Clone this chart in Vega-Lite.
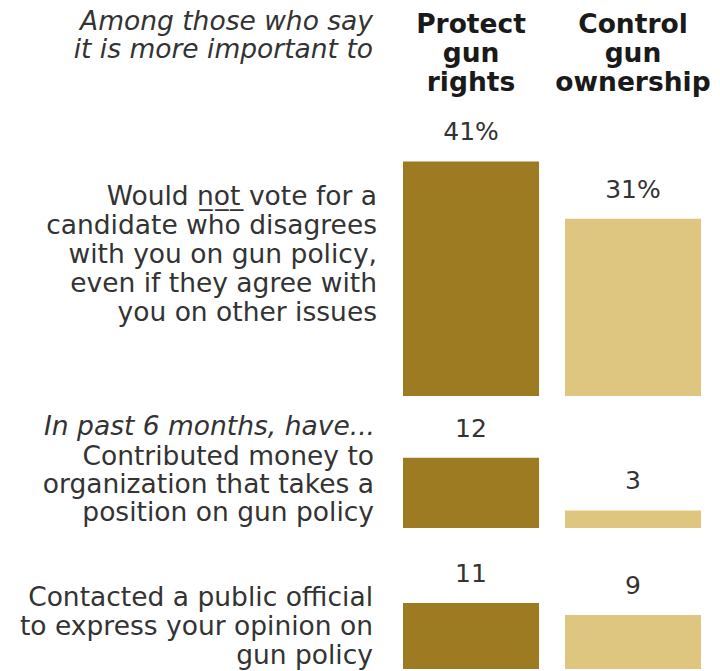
{
  "$schema": "https://vega.github.io/schema/vega-lite/v6.json",
  "padding": {"left": 19, "top": 0, "right": 0, "bottom": 2},
  "background": "white",
  "spacing": 0,
  "bounds": "flush",
  "config": {
    "view": {"stroke": null},
    "text": {"font": "DejaVu Sans", "color": "#333333"}
  },
  "datasets": {
    "bars": [
      {"item": "vote", "group": "Protect gun rights", "value": 41, "label": "41%"},
      {"item": "vote", "group": "Control gun ownership", "value": 31, "label": "31%"},
      {"item": "money", "group": "Protect gun rights", "value": 12, "label": "12"},
      {"item": "money", "group": "Control gun ownership", "value": 3, "label": "3"},
      {"item": "contact", "group": "Protect gun rights", "value": 11, "label": "11"},
      {"item": "contact", "group": "Control gun ownership", "value": 9, "label": "9"}
    ]
  },
  "resolve": {"scale": {"y": "independent"}},
  "vconcat": [
    {
      "width": 298,
      "height": 396,
      "layer": [
        {
          "data": {"name": "bars"},
          "transform": [{"filter": "datum.item === 'vote'"}],
          "mark": {"type": "bar"},
          "encoding": {
            "x": {"field": "group", "type": "nominal", "scale": {"type": "band", "domain": ["Protect gun rights", "Control gun ownership"], "paddingInner": 0.16, "paddingOuter": 0}, "axis": null},
            "y": {"field": "value", "type": "quantitative", "scale": {"domain": [0, 69.23], "nice": false, "zero": true}, "axis": null},
            "color": {"field": "group", "type": "nominal", "scale": {"domain": ["Protect gun rights", "Control gun ownership"], "range": ["#9c7b23", "#dfc680"]}, "legend": null}
          }
        },
        {
          "data": {"name": "bars"},
          "transform": [{"filter": "datum.item === 'vote'"}],
          "mark": {"type": "text", "dy": -29, "fontSize": 25, "baseline": "middle"},
          "encoding": {
            "x": {"field": "group", "type": "nominal"},
            "y": {"field": "value", "type": "quantitative"},
            "text": {"field": "label"}
          }
        },
        {
          "data": {"values": [
            {"group": "Protect gun rights", "head": "Protect|gun|rights"},
            {"group": "Control gun ownership", "head": "Control|gun|ownership"}
          ]},
          "mark": {"type": "text", "fontSize": 26.5, "fontWeight": "bold", "color": "#1a1a1a", "lineBreak": "|", "lineHeight": 29, "baseline": "middle"},
          "encoding": {
            "x": {"field": "group", "type": "nominal"},
            "y": {"datum": 64.86},
            "text": {"field": "head"}
          }
        },
        {
          "data": {"values": [{"note": "Among those who say|it is more important to"}]},
          "mark": {"type": "text", "fontSize": 26.5, "fontStyle": "italic", "align": "right", "dx": -30, "lineBreak": "|", "lineHeight": 28, "baseline": "middle"},
          "encoding": {
            "x": {"datum": "Protect gun rights", "bandPosition": 0},
            "y": {"datum": 65.38},
            "text": {"field": "note"}
          }
        },
        {
          "data": {"values": [{"note": "Would n\u0332o\u0332t\u0332 vote for a|candidate who disagrees|with you on gun policy,|even if they agree with|you on other issues"}]},
          "mark": {"type": "text", "fontSize": 26.5, "align": "right", "dx": -26, "lineBreak": "|", "lineHeight": 29, "baseline": "middle"},
          "encoding": {
            "x": {"datum": "Protect gun rights", "bandPosition": 0},
            "y": {"datum": 34.79},
            "text": {"field": "note"}
          }
        }
      ]
    },
    {
      "width": 298,
      "height": 132,
      "layer": [
        {
          "data": {"name": "bars"},
          "transform": [{"filter": "datum.item === 'money'"}],
          "mark": {"type": "bar"},
          "encoding": {
            "x": {"field": "group", "type": "nominal", "scale": {"type": "band", "domain": ["Protect gun rights", "Control gun ownership"], "paddingInner": 0.16, "paddingOuter": 0}, "axis": null},
            "y": {"field": "value", "type": "quantitative", "scale": {"domain": [0, 22.56], "nice": false, "zero": true}, "axis": null},
            "color": {"field": "group", "type": "nominal", "legend": null}
          }
        },
        {
          "data": {"name": "bars"},
          "transform": [{"filter": "datum.item === 'money'"}],
          "mark": {"type": "text", "dy": -29, "fontSize": 25, "baseline": "middle"},
          "encoding": {
            "x": {"field": "group", "type": "nominal"},
            "y": {"field": "value", "type": "quantitative"},
            "text": {"field": "label"}
          }
        },
        {
          "data": {"values": [{"note": "In past 6 months, have..."}]},
          "mark": {"type": "text", "fontSize": 26.5, "fontStyle": "italic", "align": "right", "dx": -28, "baseline": "middle"},
          "encoding": {
            "x": {"datum": "Protect gun rights", "bandPosition": 0},
            "y": {"datum": 17.26},
            "text": {"field": "note"}
          }
        },
        {
          "data": {"values": [{"note": "Contributed money to|organization that takes a|position on gun policy"}]},
          "mark": {"type": "text", "fontSize": 26.5, "align": "right", "dx": -29, "lineBreak": "|", "lineHeight": 28, "baseline": "middle"},
          "encoding": {
            "x": {"datum": "Protect gun rights", "bandPosition": 0},
            "y": {"datum": 12.14},
            "text": {"field": "note"}
          }
        }
      ]
    },
    {
      "width": 298,
      "height": 141,
      "layer": [
        {
          "data": {"name": "bars"},
          "transform": [{"filter": "datum.item === 'contact'"}],
          "mark": {"type": "bar"},
          "encoding": {
            "x": {"field": "group", "type": "nominal", "scale": {"type": "band", "domain": ["Protect gun rights", "Control gun ownership"], "paddingInner": 0.16, "paddingOuter": 0}, "axis": null},
            "y": {"field": "value", "type": "quantitative", "scale": {"domain": [0, 23.5], "nice": false, "zero": true}, "axis": null},
            "color": {"field": "group", "type": "nominal", "legend": null}
          }
        },
        {
          "data": {"name": "bars"},
          "transform": [{"filter": "datum.item === 'contact'"}],
          "mark": {"type": "text", "dy": -29, "fontSize": 25, "baseline": "middle"},
          "encoding": {
            "x": {"field": "group", "type": "nominal"},
            "y": {"field": "value", "type": "quantitative"},
            "text": {"field": "label"}
          }
        },
        {
          "data": {"values": [{"note": "Contacted a public official|to express your opinion on|gun policy"}]},
          "mark": {"type": "text", "fontSize": 26.5, "align": "right", "dx": -30, "lineBreak": "|", "lineHeight": 29, "baseline": "middle"},
          "encoding": {
            "x": {"datum": "Protect gun rights", "bandPosition": 0},
            "y": {"datum": 11.83},
            "text": {"field": "note"}
          }
        }
      ]
    }
  ]
}
